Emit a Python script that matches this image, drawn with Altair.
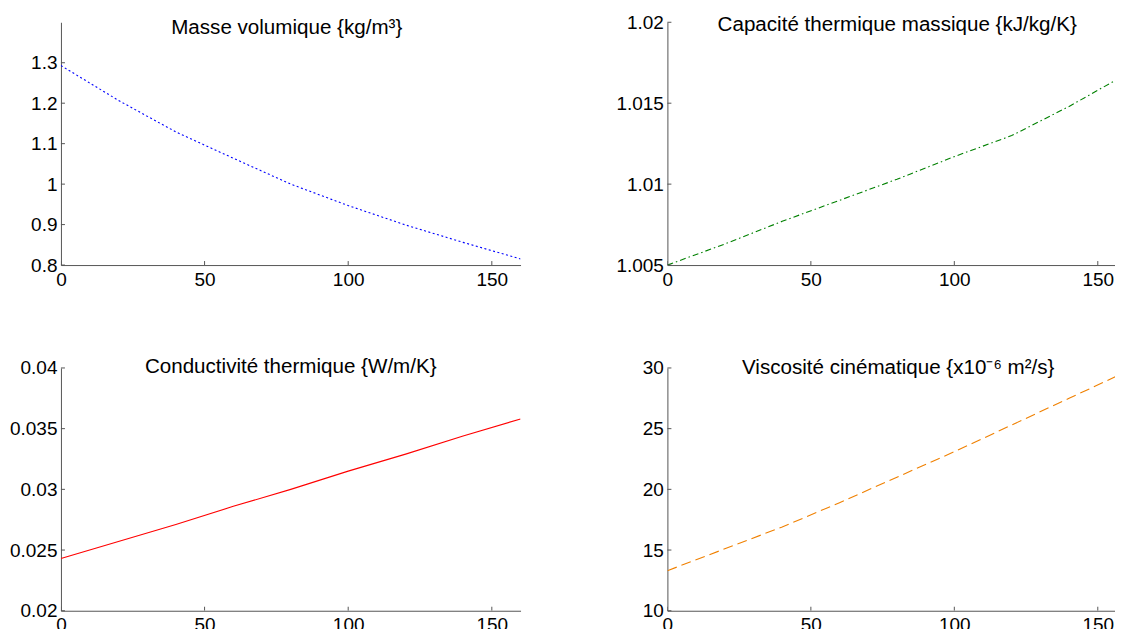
import altair as alt
import pandas as pd

# ---- data ----
temperature = [0, 20, 40, 60, 80, 100, 120, 140, 160]
masse_volumique = [1.293, 1.207, 1.129, 1.064, 1.000, 0.947, 0.899, 0.856, 0.815]
capacite_thermique = [1.0050, 1.0063, 1.0077, 1.0090, 1.0103, 1.0117, 1.0130, 1.0148, 1.0168]
conductivite = [0.0243, 0.0257, 0.0271, 0.0286, 0.0300, 0.0315, 0.0329, 0.0344, 0.0358]
viscosite = [13.3, 15.1, 16.9, 18.9, 21.0, 23.1, 25.3, 27.5, 29.7]

titles = [
    "Masse volumique {kg/m³}",
    "Capacité thermique massique {kJ/kg/K}",
    "Conductivité thermique {W/m/K}",
    "Viscosité cinématique {x10⁻⁶ m²/s}",
]
x_ticks = [0, 50, 100, 150]
x_domain_left = [0, 160]
x_domain_right = [0, 156]   # right column is cut by the picture's edge
y_ticks_rho = [0.8, 0.9, 1.0, 1.1, 1.2, 1.3]
y_domain_rho = [0.8, 1.4]
y_ticks_cp = [1.005, 1.01, 1.015, 1.02]
y_domain_cp = [1.005, 1.02]
y_ticks_k = [0.02, 0.025, 0.03, 0.035, 0.04]
y_domain_k = [0.02, 0.04]
y_ticks_nu = [10, 15, 20, 25, 30]
y_domain_nu = [10, 30]

FONT = "Liberation Sans"
AXIS_COLOR = "#555555"
W_LEFT, W_RIGHT, H = 460, 448, 243
TICK = 4


def panel(values, title, color, dash, x_domain, width, y_domain, y_ticks, title_x, title_y):
    df = pd.DataFrame({"T": temperature, "v": values})
    xs = alt.Scale(domain=x_domain, nice=False, zero=False)
    ys = alt.Scale(domain=y_domain, nice=False, zero=False)
    xa = alt.Axis(values=x_ticks, format="d", title=None)
    ya = alt.Axis(values=y_ticks, format="~g", title=None)
    line_kwargs = dict(color=color, strokeWidth=1.1, clip=True)
    if dash:
        line_kwargs["strokeDash"] = dash
    line = alt.Chart(df).mark_line(**line_kwargs).encode(
        x=alt.X("T:Q", scale=xs, axis=xa),
        y=alt.Y("v:Q", scale=ys, axis=ya),
    )
    yt = alt.Chart(pd.DataFrame({"v": y_ticks})).mark_rule(
        color=AXIS_COLOR, strokeWidth=1
    ).encode(x=alt.value(0), x2=alt.value(TICK), y=alt.Y("v:Q", scale=ys, axis=ya))
    xt = alt.Chart(pd.DataFrame({"T": x_ticks})).mark_rule(
        color=AXIS_COLOR, strokeWidth=1, clip=True
    ).encode(x=alt.X("T:Q", scale=xs, axis=xa), y=alt.value(H), y2=alt.value(H - TICK))
    ttl = alt.Chart(pd.DataFrame({"t": [title]})).mark_text(
        font=FONT, fontSize=20.6, color="black", align="center", baseline="alphabetic"
    ).encode(text="t:N", x=alt.value(title_x), y=alt.value(title_y))
    return alt.layer(line, yt, xt, ttl).properties(width=width, height=H)


p1 = panel(masse_volumique, titles[0], "#0000FF", [2, 2.5],
           x_domain_left, W_LEFT, y_domain_rho, y_ticks_rho, 226, 12)
p2 = panel(capacite_thermique, titles[1], "#008000", [6, 3, 1.5, 3],
           x_domain_right, W_RIGHT, y_domain_cp, y_ticks_cp, 230, 9)
p3 = panel(conductivite, titles[2], "#FF0000", None,
           x_domain_left, W_LEFT, y_domain_k, y_ticks_k, 230, 5)
p4 = panel(viscosite, titles[3], "#F08000", [10, 5],
           x_domain_right, W_RIGHT, y_domain_nu, y_ticks_nu, 231, 6)

top = alt.hconcat(p1, p2, spacing=94)
bottom = alt.hconcat(p3, p4, spacing=94)

chart = alt.vconcat(top, bottom, spacing=62).properties(
    padding={"left": 0, "top": 5, "right": 0, "bottom": 0}
).configure_view(stroke=None).configure_axis(
    domainColor=AXIS_COLOR, domainWidth=1, ticks=False, grid=False,
    labelFont=FONT, labelFontSize=19, labelColor="black", labelPadding=5,
    labelFlush=False, labelOverlap=False,
).configure_axisY(minExtent=52.5, maxExtent=52.5, labelPadding=4).configure_axisX(
    minExtent=30, maxExtent=30
)

chart.save("out.html", embed_options={"renderer": "svg", "actions": False})
